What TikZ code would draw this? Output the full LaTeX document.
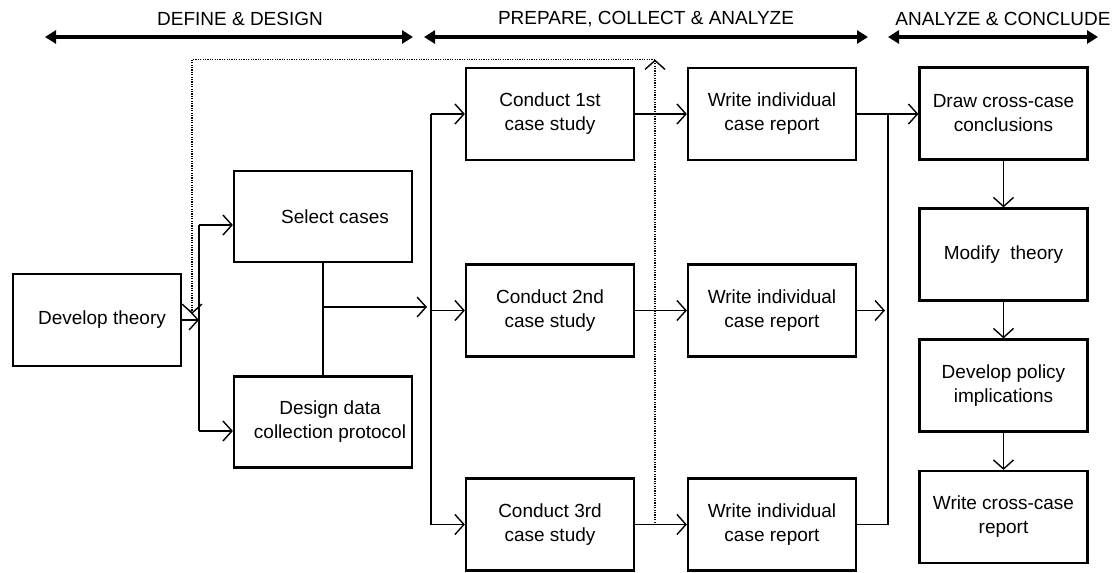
\documentclass[tikz,border=0pt]{standalone}
\usepackage{fontspec}
\setmainfont{Liberation Sans}
\usetikzlibrary{arrows.meta}
\begin{document}
\begin{tikzpicture}[x=1pt,y=-1pt,
  box/.style={draw, line width=2.2pt, align=center, inner sep=0pt,
    font=\fontsize{19}{24}\selectfont},
  boxA/.style={box, minimum width=168pt, minimum height=92pt},
  boxB/.style={box, minimum width=178pt, minimum height=91pt},
  hdr/.style={font=\fontsize{19}{24}\selectfont},
  ln/.style={line width=1.4pt},
  conn/.style={line width=1.4pt, -{Straight Barb[length=9pt,width=20pt,line width=1.4pt]}},
  dot/.style={line width=1.8pt, dash pattern=on 1.2pt off 1.2pt},
  dotarr/.style={dot, -{Straight Barb[length=9pt,width=20pt,line width=1.4pt]}},
  phase/.style={line width=3.6pt, {Triangle[length=11pt,width=13pt]}-{Triangle[length=11pt,width=13pt]}}
]
\useasboundingbox (0,0) rectangle (1120,573);

% phase headers
\node[hdr] (h1) at (240,19) {DEFINE \& DESIGN};
\node[hdr] (h2) at (646,19) {PREPARE, COLLECT \& ANALYZE};
\node[hdr] (h3) at (1003,19) {ANALYZE \& CONCLUDE};
\coordinate (a1l) at (45,37);  \coordinate (a1r) at (413,37);
\coordinate (a2l) at (424,37); \coordinate (a2r) at (868,37);
\coordinate (a3l) at (888,37); \coordinate (a3r) at (1098,37);
\draw[phase] (a1l) -- (a1r);
\draw[phase] (a2l) -- (a2r);
\draw[phase] (a3l) -- (a3r);

% boxes
\node[boxA] (dev) at (97,320) {\hspace*{10pt}Develop theory};
\node[boxB] (sel) at (323,216.5) {\hspace*{24pt}Select cases};
\node[boxB] (des) at (323,422) {\hspace*{14pt}Design data\\\hspace*{14pt}collection protocol};
\node[boxA] (c1) at (550,114) {Conduct 1st\\case study};
\node[boxA] (w1) at (772,114) {Write individual\\case report};
\node[boxA] (c2) at (550,310.5) {Conduct 2nd\\case study};
\node[boxA] (w2) at (772,310.5) {Write individual\\case report};
\node[boxA] (c3) at (550,524.5) {Conduct 3rd\\case study};
\node[boxA] (w3) at (772,524.5) {Write individual\\case report};
\node[boxA] (dr) at (1003.5,113.5) {Draw cross-case\\conclusions};
\node[boxA] (mo) at (1003.5,254.5) {Modify\ \ theory};
\node[boxA] (po) at (1003.5,385.5) {Develop policy\\implications};
\node[boxA] (wc) at (1003.5,517) {Write cross-case\\report};

% left junction
\coordinate (jA) at (199,320);
\coordinate (jS) at (199,225);
\coordinate (jD) at (199,431);
\draw[conn] (dev.east |- jA) -- (jA);
\draw[ln] (jS) -- (jD);
\draw[conn] (jS) -- (sel.west |- jS);
\draw[conn] (jD) -- (des.west |- jD);

% select / design merge
\coordinate (jM) at (323,307);
\coordinate (jMe) at (427,307);
\draw[ln] (sel.south) -- (des.north);
\draw[conn] (jM) -- (jMe);

% distribution to case studies
\coordinate (jC) at (431,0);
\draw[ln] (jC |- c1.west) -- (jC |- c3.west);
\draw[conn] (jC |- c1.west) -- (c1.west);
\draw[conn] (jC |- c2.west) -- (c2.west);
\draw[conn] (jC |- c3.west) -- (c3.west);

% case study to report
\draw[conn] (c1.east) -- (w1.west);
\draw[conn] (c2.east) -- (w2.west);
\draw[conn] (c3.east) -- (w3.west);

% reports to cross-case
\coordinate (jR) at (888,0);
\coordinate (w2e) at (885,310.5);
\draw[ln] (w3.east) -- (jR |- w3.east) -- (jR |- w1.east);
\draw[conn] (w1.east) -- (dr.west |- w1.east);
\draw[conn] (w2.east) -- (w2e);

% right column
\draw[conn] (dr.south) -- (mo.north);
\draw[conn] (mo.south) -- (po.north);
\draw[conn] (po.south) -- (wc.north);

% dotted feedback
\coordinate (dTR) at (655,59.5);
\coordinate (dTL) at (192,59.5);
\coordinate (dEnd) at (192,314);
\draw[dotarr] (c3.east) -| (dTR);
\draw[dotarr] (dTR) -- (dTL) -- (dEnd);
\end{tikzpicture}
\end{document}
